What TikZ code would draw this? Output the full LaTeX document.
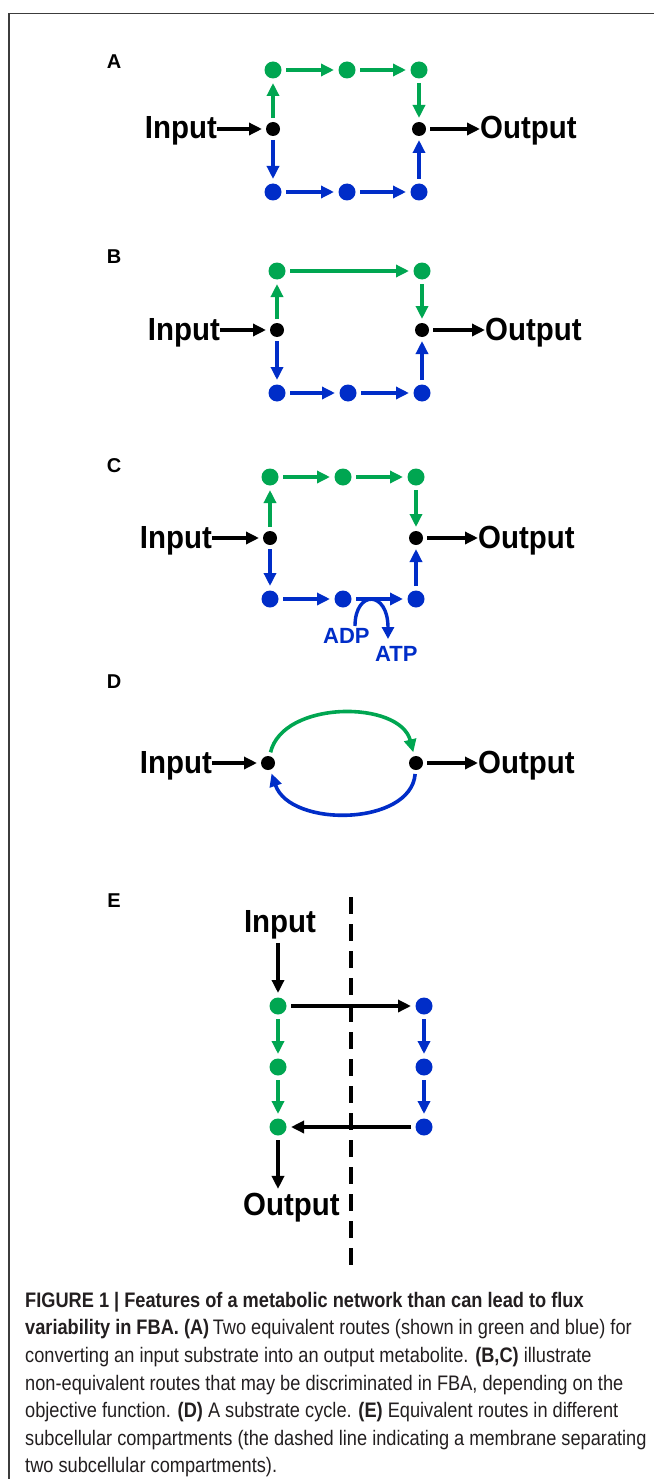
\documentclass[tikz,border=0pt]{standalone}
\usepackage{fontspec}
\setmainfont{Liberation Sans}
\newfontfamily\lblfont{Liberation Sans}[FakeStretch=0.92]
\newfontfamily\capfont{Liberation Sans}[FakeStretch=0.867]
\usetikzlibrary{arrows.meta}
\definecolor{grn}{RGB}{0,166,81}
\definecolor{blu}{RGB}{0,45,200}
\definecolor{captxt}{RGB}{35,31,32}
\definecolor{framec}{RGB}{60,60,60}
\begin{document}
\begin{tikzpicture}[x=1pt,y=-1pt,
  gdot/.style={circle,fill=grn,minimum size=17pt,inner sep=0pt,outer sep=4.5pt},
  bdot/.style={circle,fill=blu,minimum size=17pt,inner sep=0pt,outer sep=4.5pt},
  kdot/.style={circle,fill=black,minimum size=14pt,inner sep=0pt,outer sep=4pt},
  flow/.style={line width=3.6pt,-{Triangle[length=13pt,width=12pt]}},
  garr/.style={flow,color=grn},
  barr/.style={flow,color=blu},
  karr/.style={flow,color=black},
  lbl/.style={font=\lblfont\bfseries\fontsize{32}{36}\selectfont,inner sep=0pt},
  plab/.style={font=\bfseries\fontsize{20}{22}\selectfont,inner sep=0pt,anchor=base},
  smlbl/.style={font=\bfseries\fontsize{22}{24}\selectfont,inner sep=0pt,anchor=base west,text=blu},
  captline/.style={anchor=base west,inner sep=0pt,font=\capfont\fontsize{21}{25}\selectfont,text=captxt},
  memb/.style={line width=4pt,dash pattern=on 17pt off 10pt},
  framel/.style={draw=framec,line width=1.2pt}
]
\useasboundingbox (0,0) rectangle (654,1479);
\draw[framel] (654,13.5) -- (9,13.5) -- (9,1479);

% ---------------- Panel A
\node[plab] (labA) at (114,69) {A};
\node[kdot] (iA) at (273,129) {};
\node[kdot] (oA) at (419,129) {};
\node[gdot] (gA1) at (273,70) {};
\node[gdot] (gA2) at (347,70) {};
\node[gdot] (gA3) at (419,70) {};
\node[bdot] (bA1) at (273,192) {};
\node[bdot] (bA2) at (347,192) {};
\node[bdot] (bA3) at (419,192) {};
\node[lbl,anchor=base east] (inA) at (217,139) {Input};
\node[lbl,anchor=base west] (outA) at (480,139) {Output};
\draw[karr] (inA.east |- iA) -- (iA);
\draw[karr] (oA) -- (oA -| outA.west);
\draw[garr] (iA) -- (gA1);
\draw[garr] (gA1) -- (gA2);
\draw[garr] (gA2) -- (gA3);
\draw[garr] (gA3) -- (oA);
\draw[barr] (iA) -- (bA1);
\draw[barr] (bA1) -- (bA2);
\draw[barr] (bA2) -- (bA3);
\draw[barr] (bA3) -- (oA);

% ---------------- Panel B
\node[plab] (labB) at (114,263) {B};
\node[kdot] (iB) at (277,330) {};
\node[kdot] (oB) at (422,330) {};
\node[gdot] (gB1) at (277,271) {};
\node[gdot] (gB3) at (422,271) {};
\node[bdot] (bB1) at (277,393) {};
\node[bdot] (bB2) at (348,393) {};
\node[bdot] (bB3) at (422,393) {};
\node[lbl,anchor=base east] (inB) at (220,340) {Input};
\node[lbl,anchor=base west] (outB) at (485,340) {Output};
\draw[karr] (inB.east |- iB) -- (iB);
\draw[karr] (oB) -- (oB -| outB.west);
\draw[garr] (iB) -- (gB1);
\draw[garr] (gB1) -- (gB3);
\draw[garr] (gB3) -- (oB);
\draw[barr] (iB) -- (bB1);
\draw[barr] (bB1) -- (bB2);
\draw[barr] (bB2) -- (bB3);
\draw[barr] (bB3) -- (oB);

% ---------------- Panel C
\node[plab] (labC) at (114,472) {C};
\node[kdot] (iC) at (270,538) {};
\node[kdot] (oC) at (416,538) {};
\node[gdot] (gC1) at (270,477) {};
\node[gdot] (gC2) at (343,477) {};
\node[gdot] (gC3) at (416,477) {};
\node[bdot] (bC1) at (270,599) {};
\node[bdot] (bC2) at (343,599) {};
\node[bdot] (bC3) at (416,599) {};
\node[lbl,anchor=base east] (inC) at (212,548) {Input};
\node[lbl,anchor=base west] (outC) at (478,548) {Output};
\draw[karr] (inC.east |- iC) -- (iC);
\draw[karr] (oC) -- (oC -| outC.west);
\draw[garr] (iC) -- (gC1);
\draw[garr] (gC1) -- (gC2);
\draw[garr] (gC2) -- (gC3);
\draw[garr] (gC3) -- (oC);
\draw[barr] (iC) -- (bC1);
\draw[barr] (bC1) -- (bC2);
\draw[barr] (bC2) -- (bC3);
\draw[barr] (bC3) -- (oC);
\node[smlbl] (adp) at (323,643) {ADP};
\node[smlbl] (atp) at (375,661) {ATP};
\coordinate (arcS) at (355,626);
\coordinate (arcE) at (388,639);
\draw[line width=3.4pt,color=blu,-{Triangle[length=12pt,width=12pt]}] (arcS) .. controls (355,590) and (388,590) .. (arcE);

% ---------------- Panel D
\node[plab] (labD) at (114,688) {D};
\node[kdot] (iD) at (268,763) {};
\node[kdot] (oD) at (416,763) {};
\node[lbl,anchor=base east] (inD) at (212,773) {Input};
\node[lbl,anchor=base west] (outD) at (478,773) {Output};
\draw[karr] (inD.east |- iD) -- (iD);
\draw[karr] (oD) -- (oD -| outD.west);
\draw[garr] (iD) .. controls (283,700) and (400,700) .. (oD);
\draw[barr] (oD) .. controls (411,826) and (290,828) .. (iD);

% ---------------- Panel E
\node[plab] (labE) at (114,907) {E};
\coordinate (mtop) at (351,897);
\coordinate (mbot) at (351,1265);
\node[lbl,anchor=base] (inE) at (280,932) {Input};
\node[gdot] (gE1) at (278,1006) {};
\node[gdot] (gE2) at (278,1067) {};
\node[gdot] (gE3) at (278,1127) {};
\node[bdot] (bE1) at (424,1006) {};
\node[bdot] (bE2) at (424,1067) {};
\node[bdot] (bE3) at (424,1127) {};
\node[lbl,anchor=base west] (outE) at (243,1215) {Output};
\draw[karr] ([yshift=-4pt]inE.south -| gE1) -- (gE1);
\draw[garr] (gE1) -- (gE2);
\draw[garr] (gE2) -- (gE3);
\draw[barr] (bE1) -- (bE2);
\draw[barr] (bE2) -- (bE3);
\draw[karr] (gE1) -- (bE1);
\draw[karr] (bE3) -- (gE3);
\draw[karr] (gE3) -- ([yshift=3.5pt]outE.north -| gE3);
\draw[memb] (mtop) -- (mbot);

% ---------------- Caption
\node[captline] (c1) at (25,1307) {\bfseries FIGURE 1 | Features of a metabolic network than can lead to flux};
\node[captline] (c2) at (25,1334) {{\bfseries variability in FBA. (A)}\,Two equivalent routes (shown in green and blue) for};
\node[captline] (c3) at (25,1362) {converting an input substrate into an output metabolite. {\bfseries (B,C)} illustrate};
\node[captline] (c4) at (25,1390) {non-equivalent routes that may be discriminated in FBA, depending on the};
\node[captline] (c5) at (25,1417) {objective function. {\bfseries (D)} A substrate cycle. {\bfseries (E)} Equivalent routes in different};
\node[captline] (c6) at (25,1445) {subcellular compartments (the dashed line indicating a membrane separating};
\node[captline] (c7) at (25,1472) {two subcellular compartments).};
\end{tikzpicture}
\end{document}
